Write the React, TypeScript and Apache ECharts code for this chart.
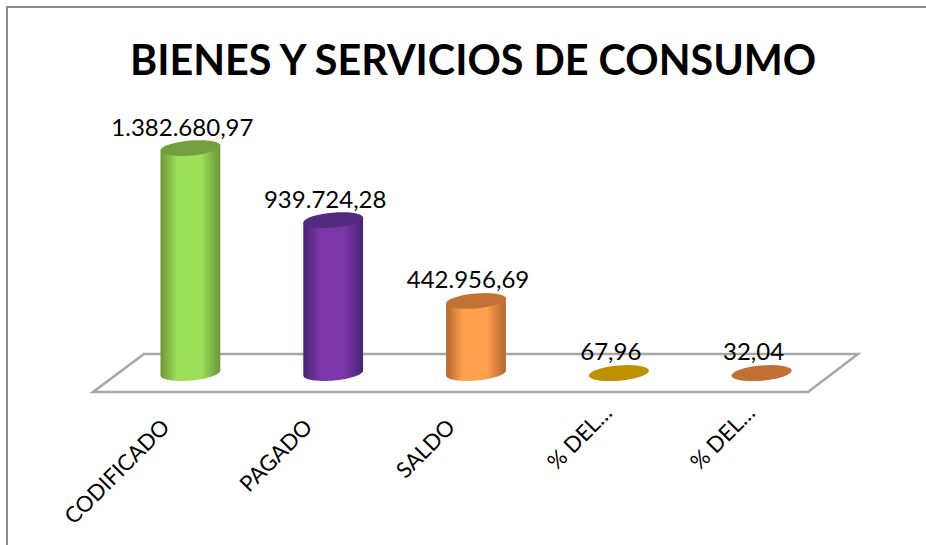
import React, { useEffect, useRef } from "react";
import * as echarts from "echarts";

const titleText = "BIENES Y SERVICIOS DE CONSUMO";
const categories = ["CODIFICADO", "PAGADO", "SALDO", "% DEL…", "% DEL…"];
const seriesValues = [1382680.97, 939724.28, 442956.69, 67.96, 32.04];
const valueLabels = ["1.382.680,97", "939.724,28", "442.956,69", "67,96", "32,04"];
const sideEdge = ["#6c9638", "#472470", "#b3672c", "#bf9000", "#c07033"];
const sideMid = ["#9be058", "#7c36aa", "#ffa04e", "#bf9000", "#c07033"];
const capColor = ["#739f3e", "#532a80", "#c27235", "#bf9000", "#c07033"];

const RX = 30;
const RY = 7.5;
const TILT = (-5 * Math.PI) / 180;
const STEPS = 36;
const FONT = "Lato, 'Open Sans', sans-serif";

// Point of a slightly tilted ellipse; t runs from pi (left) down through the front to 0 (right).
function ellipsePoint(cx: number, cy: number, t: number): number[] {
  const ex = RX * Math.cos(t);
  const ey = RY * Math.sin(t);
  return [cx + ex * Math.cos(TILT) - ey * Math.sin(TILT), cy + ex * Math.sin(TILT) + ey * Math.cos(TILT)];
}

function arcPoints(cx: number, cy: number, from: number, to: number): number[][] {
  const pts: number[][] = [];
  for (let k = 0; k <= STEPS; k++) pts.push(ellipsePoint(cx, cy, from + ((to - from) * k) / STEPS));
  return pts;
}

function renderCylinder(params: any, api: any) {
  const i = api.value(0);
  const [cx, top] = api.coord([i, api.value(1)]);
  const [, bot] = api.coord([i, 0]);
  const front = arcPoints(cx, bot, Math.PI, 0);
  const body = [...front, ellipsePoint(cx, top, 0), ellipsePoint(cx, top, Math.PI)];
  const cap = arcPoints(cx, top, 0, Math.PI * 2);
  const fill = new echarts.graphic.LinearGradient(0, 0, 1, 0, [
    { offset: 0, color: sideEdge[i] },
    { offset: 0.28, color: sideMid[i] },
    { offset: 0.68, color: sideMid[i] },
    { offset: 1, color: sideEdge[i] },
  ]);
  return {
    type: "group",
    children: [
      { type: "polygon", shape: { points: body }, style: { fill } },
      { type: "polygon", shape: { points: cap }, style: { fill: capColor[i] } },
      {
        type: "text",
        style: {
          x: cx - 8,
          y: top - 22,
          text: valueLabels[i],
          fill: "#000",
          font: `24px ${FONT}`,
          textAlign: "center",
          textVerticalAlign: "middle",
        },
      },
    ],
  };
}

export default function App() {
  const ref = useRef<HTMLDivElement>(null);
  useEffect(() => {
    const chart = echarts.init(ref.current!, null, { renderer: "svg" });
    const labelStyle = { fontFamily: FONT, fontSize: 22, color: "#000" };
    chart.setOption({
      animation: false,
      backgroundColor: "#fff",
      title: {
        text: titleText,
        left: 125,
        top: 33,
        textStyle: { fontFamily: FONT, fontWeight: "bold", fontSize: 41.3, color: "#000" },
      },
      grid: { left: 119, width: 714, top: 129, height: 244 },
      xAxis: {
        type: "category",
        data: categories,
        axisLine: { show: false },
        axisTick: { show: false },
        axisLabel: {
          interval: 0,
          rotate: 45,
          margin: 24,
          ...labelStyle,
          formatter: (v: string) => (v.startsWith("%") ? `{q|${v}}` : `{p|${v}}`),
          rich: {
            p: { ...labelStyle, padding: [0, 36, 0, 0] },
            q: { ...labelStyle, padding: [0, 16, 0, 0] },
          },
        },
      },
      yAxis: { type: "value", min: 0, max: 1500000, show: false },
      graphic: [
        { type: "polygon", z: 0, shape: { points: [[93, 392], [808, 392], [858, 354], [144, 354]] }, style: { fill: "#fff", stroke: "#a6a6a6", lineWidth: 2.5 } },
        { type: "polyline", z: 0, shape: { points: [[926, 7], [7, 7], [7, 545]] }, style: { fill: "none", stroke: "#8c8c8c", lineWidth: 2 } },
      ],
      series: [
        {
          type: "custom",
          renderItem: renderCylinder,
          clip: false,
          data: seriesValues.map((v, i) => [i, v]),
          encode: { x: 0, y: 1 },
          z: 5,
        },
      ],
    });
    return () => chart.dispose();
  }, []);
  return <div ref={ref} style={{ position: "absolute", left: 0, top: 0, width: 926, height: 545 }} />;
}
